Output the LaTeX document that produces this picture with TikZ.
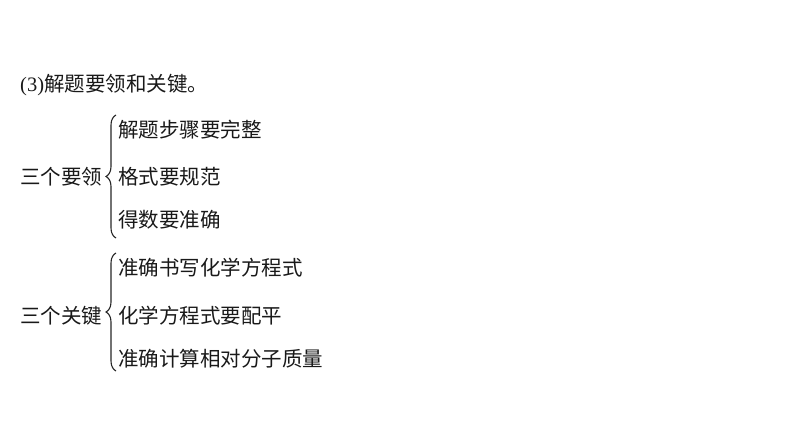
\documentclass[tikz,border=0pt]{standalone}
\usepackage{fontspec}
\setmainfont{Liberation Serif}
\newfontfamily\cjk{Noto Sans CJK SC}
\usetikzlibrary{decorations.pathreplacing}
\begin{document}
\begin{tikzpicture}[x=1pt,y=1pt,
  txt/.style={anchor=base west,inner sep=0pt,font=\fontsize{20.5}{24}\selectfont\cjk,text=black!90},
  brc/.style={decorate,decoration={brace,amplitude=10pt,aspect=0.5},line width=1.1pt,black!85}]
\useasboundingbox (0,0) rectangle (794,447);
\node[txt] (title) at (20,447-92) {{\fontsize{20.5}{24}\selectfont\rmfamily(3)}解题要领和关键。};
\node[txt] (g1) at (20,447-185) {三个要领};
\coordinate (b1a) at (116,447-238);
\coordinate (b1b) at (116,447-115);
\draw[brc] (b1a) -- (b1b);
\node[txt] (a1) at (118,447-138) {解题步骤要完整};
\node[txt] (a2) at (118,447-185) {格式要规范};
\node[txt] (a3) at (118,447-228) {得数要准确};
\node[txt] (g2) at (20,447-323) {三个关键};
\coordinate (b2a) at (116,447-371);
\coordinate (b2b) at (116,447-253);
\draw[brc] (b2a) -- (b2b);
\node[txt] (c1) at (118,447-276) {准确书写化学方程式};
\node[txt] (c2) at (118,447-323) {化学方程式要配平};
\node[txt] (c3) at (118,447-366) {准确计算相对分子质量};
\end{tikzpicture}
\end{document}
